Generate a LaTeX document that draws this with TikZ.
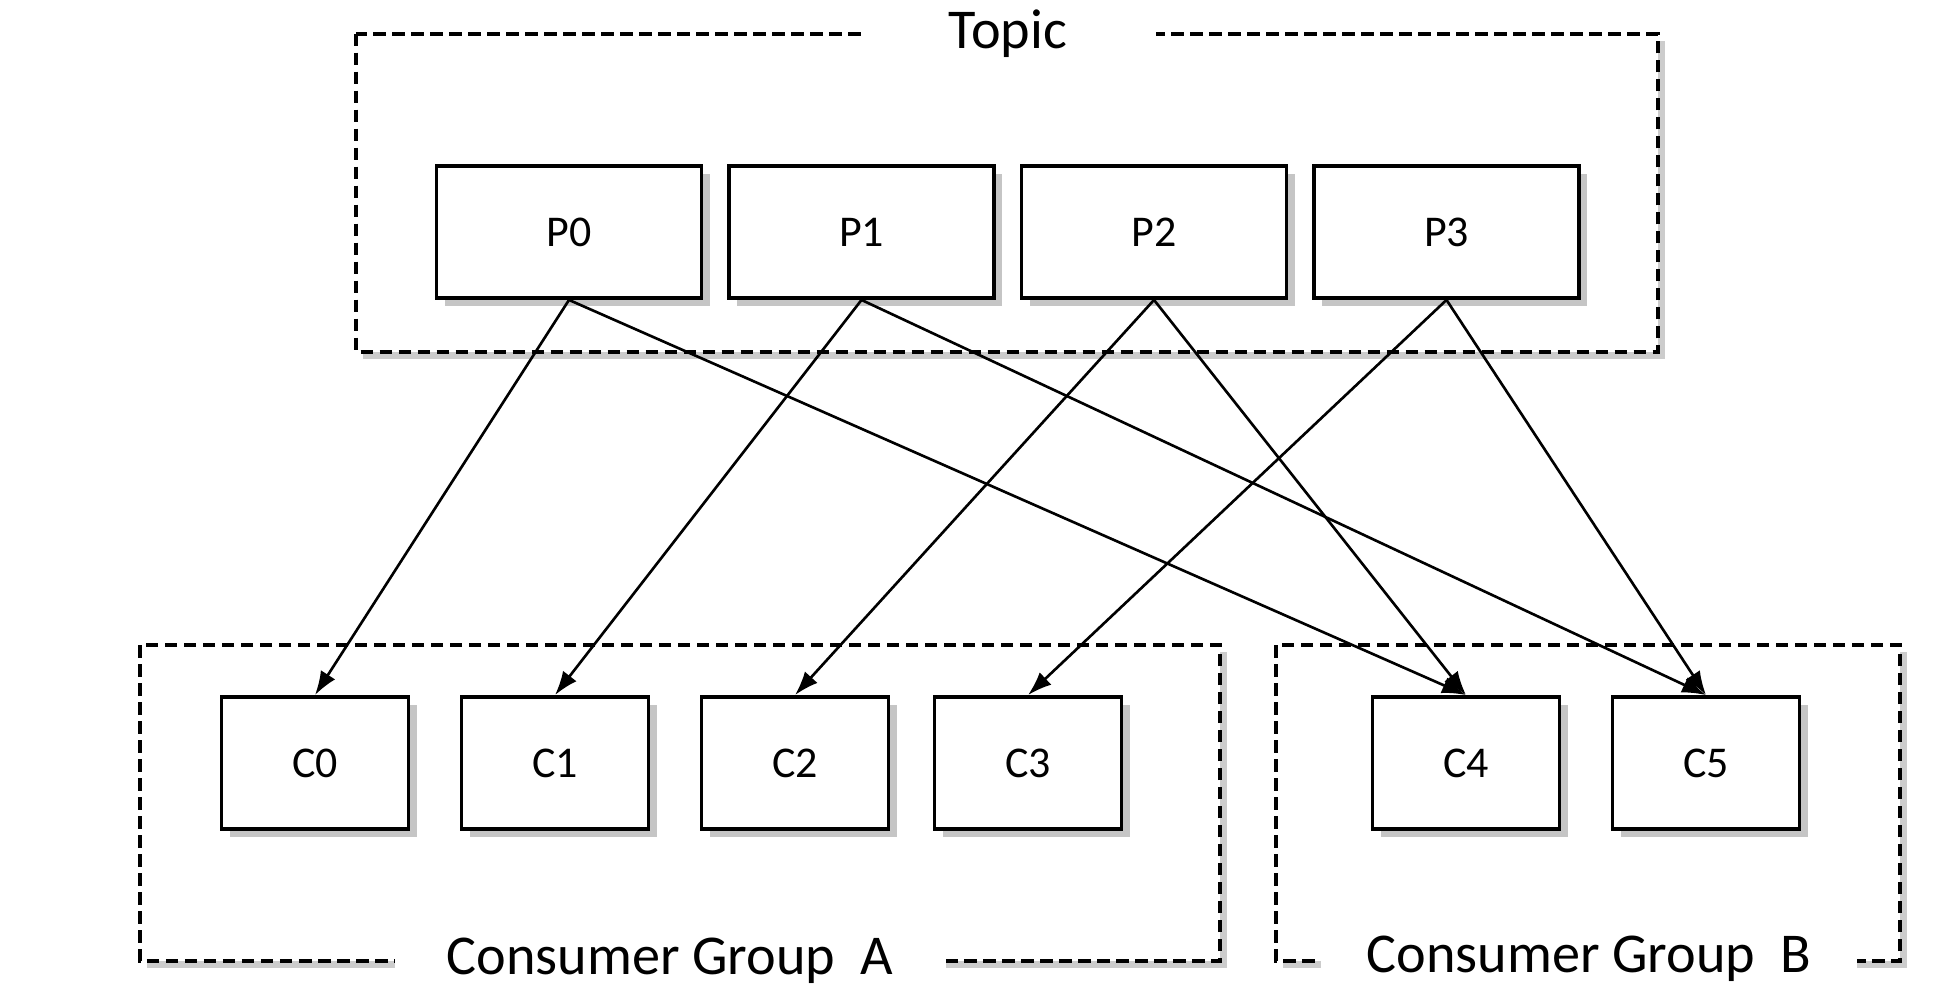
\documentclass[tikz,border=0pt]{standalone}
\usepackage{fontspec}
\setmainfont{Carlito}
\usepackage{tikz}
\usetikzlibrary{positioning}
\usetikzlibrary{shadows}
\usetikzlibrary{arrows.meta}
\tikzset{every picture/.style={line width=1.1pt}}
\tikzset{
  part/.style={rectangle,draw,fill=white,minimum width=2.65cm,minimum height=1.32cm,
    font=\fontsize{12.5}{15}\selectfont,
    drop shadow={shadow xshift=0.8mm,shadow yshift=-0.8mm,opacity=0.45}},
  cons/.style={part,minimum width=1.87cm},
  frame/.style={draw,dash pattern=on 1.25mm off 0.65mm,fill=white,
    drop shadow={shadow xshift=0.7mm,shadow yshift=-0.7mm,opacity=0.4}},
  title/.style={fill=white,inner sep=0pt,minimum height=0.6cm,font=\fontsize{16}{19}\selectfont},
  feed/.style={line width=0.75pt,-{Latex[length=2.4mm,width=1.7mm]}}
}
\begin{document}
\begin{tikzpicture}
\useasboundingbox (0,0) rectangle (19.58,-9.96);

% dashed frames
\draw[frame] (3.56,-0.336) rectangle (16.58,-3.52);
\draw[frame] (1.40,-6.45) rectangle (12.20,-9.61);
\draw[frame] (12.76,-6.45) rectangle (19.00,-9.61);
\node (topic) at (10.08,-0.336) [title,minimum width=2.95cm] {Topic};
\node (grpa) at (6.70,-9.61) [title,minimum width=5.51cm] {Consumer Group\ \ A};
\node (grpb) at (15.89,-9.59) [title,minimum width=5.36cm] {Consumer Group\ \ B};

% partitions
\node (p0) at (5.69,-2.32) [part] {P0};
\node (p1) [part, right of=p0, node distance=2.925cm] {P1};
\node (p2) [part, right of=p1, node distance=2.925cm] {P2};
\node (p3) [part, right of=p2, node distance=2.925cm] {P3};

% consumers
\node (c0) at (3.15,-7.63) [cons] {C0};
\node (c1) [cons, right of=c0, node distance=2.40cm] {C1};
\node (c2) [cons, right of=c1, node distance=2.40cm] {C2};
\node (c3) [cons, right of=c2, node distance=2.33cm] {C3};
\node (c4) at (14.66,-7.63) [cons] {C4};
\node (c5) [cons, right of=c4, node distance=2.40cm] {C5};

\draw[feed] (p0.south) -- (c0.north);
\draw[feed] (p0.south) -- (c4.north);
\draw[feed] (p1.south) -- (c1.north);
\draw[feed] (p1.south) -- (c5.north);
\draw[feed] (p2.south) -- (c2.north);
\draw[feed] (p2.south) -- (c4.north);
\draw[feed] (p3.south) -- (c3.north);
\draw[feed] (p3.south) -- (c5.north);
\end{tikzpicture}
\end{document}
